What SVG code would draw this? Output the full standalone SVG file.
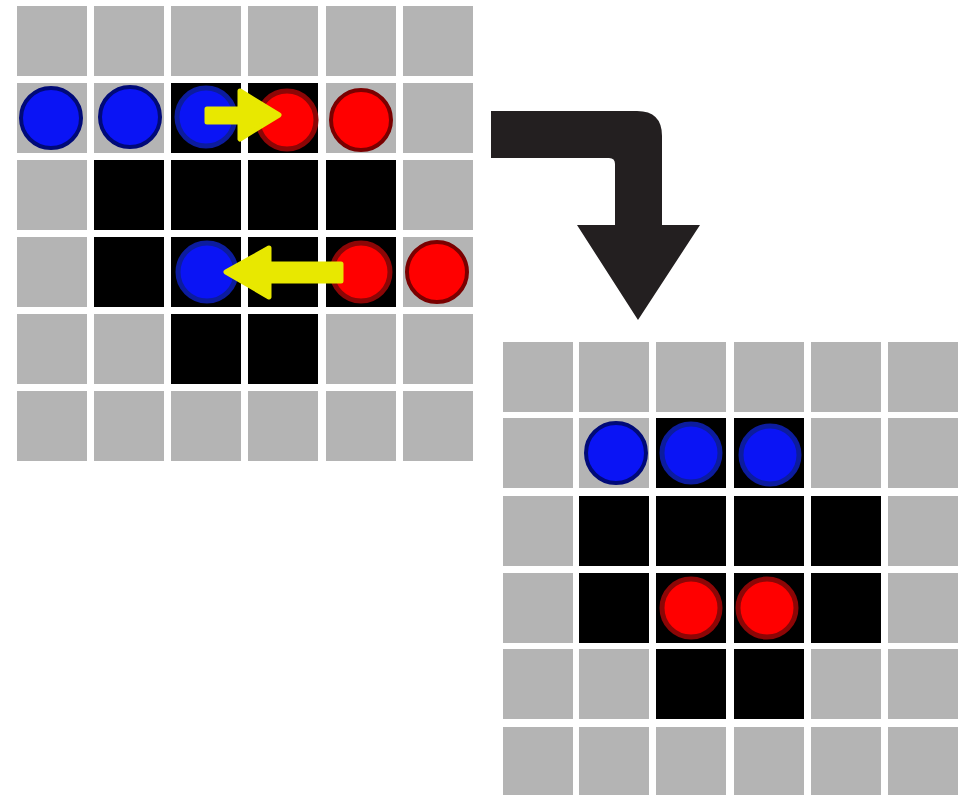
<svg xmlns="http://www.w3.org/2000/svg" width="965" height="795" viewBox="0 0 965 795">
<style>
.g{fill:#b4b4b4}
.k{fill:#000}
.bg{fill:#0a14f5;stroke:#000a78;stroke-width:4}
.bk{fill:#0a14f5;stroke:#0c1c9e;stroke-width:5}
.rg{fill:#ff0000;stroke:#7a0000;stroke-width:4}
.rk{fill:#ff0000;stroke:#8c0606;stroke-width:5}
.y{fill:#e8e800;stroke:#e8e800;stroke-width:5;stroke-linejoin:round}
</style>
<rect width="965" height="795" fill="#fff"/>
<g id="grid-before">
<rect class="g" x="17" y="6" width="70" height="70"/><rect class="g" x="94" y="6" width="70" height="70"/><rect class="g" x="171" y="6" width="70" height="70"/><rect class="g" x="248" y="6" width="70" height="70"/><rect class="g" x="326" y="6" width="70" height="70"/><rect class="g" x="403" y="6" width="70" height="70"/>
<rect class="g" x="17" y="83" width="70" height="70"/><rect class="g" x="94" y="83" width="70" height="70"/><rect class="k" x="171" y="83" width="70" height="70"/><rect class="k" x="248" y="83" width="70" height="70"/><rect class="g" x="326" y="83" width="70" height="70"/><rect class="g" x="403" y="83" width="70" height="70"/>
<rect class="g" x="17" y="160" width="70" height="70"/><rect class="k" x="94" y="160" width="70" height="70"/><rect class="k" x="171" y="160" width="70" height="70"/><rect class="k" x="248" y="160" width="70" height="70"/><rect class="k" x="326" y="160" width="70" height="70"/><rect class="g" x="403" y="160" width="70" height="70"/>
<rect class="g" x="17" y="237" width="70" height="70"/><rect class="k" x="94" y="237" width="70" height="70"/><rect class="k" x="171" y="237" width="70" height="70"/><rect class="k" x="248" y="237" width="70" height="70"/><rect class="k" x="326" y="237" width="70" height="70"/><rect class="g" x="403" y="237" width="70" height="70"/>
<rect class="g" x="17" y="314" width="70" height="70"/><rect class="g" x="94" y="314" width="70" height="70"/><rect class="k" x="171" y="314" width="70" height="70"/><rect class="k" x="248" y="314" width="70" height="70"/><rect class="g" x="326" y="314" width="70" height="70"/><rect class="g" x="403" y="314" width="70" height="70"/>
<rect class="g" x="17" y="391" width="70" height="70"/><rect class="g" x="94" y="391" width="70" height="70"/><rect class="g" x="171" y="391" width="70" height="70"/><rect class="g" x="248" y="391" width="70" height="70"/><rect class="g" x="326" y="391" width="70" height="70"/><rect class="g" x="403" y="391" width="70" height="70"/>
</g>
<g id="pieces-before">
<circle class="bg" cx="51" cy="118" r="30"/>
<circle class="bg" cx="130" cy="117" r="30"/>
<circle class="bk" cx="206" cy="117" r="29"/>
<circle class="rk" cx="287" cy="120" r="29"/>
<circle class="rg" cx="361" cy="120" r="30"/>
<circle class="bk" cx="207" cy="272" r="29"/>
<circle class="rk" cx="361" cy="272" r="29"/>
<circle class="rg" cx="437" cy="272" r="30"/>
</g>
<g id="moves">
<polygon class="y" points="207,109 240,109 240,91 279,115 240,139 240,122 207,122"/>
<polygon class="y" points="341,264 269,264 269,248 226,272 269,297 269,281 341,281"/>
</g>
<g id="connectors">
<path d="M491,111 H637 Q662,111 662,136 V225 H700 L638,320 L577,225 H615 V164 Q615,158 609,158 H491 Z" fill="#231f20"/>
</g>
<g id="grid-after">
<rect class="g" x="503" y="342" width="70" height="70"/><rect class="g" x="579" y="342" width="70" height="70"/><rect class="g" x="656" y="342" width="70" height="70"/><rect class="g" x="734" y="342" width="70" height="70"/><rect class="g" x="811" y="342" width="70" height="70"/><rect class="g" x="888" y="342" width="70" height="70"/>
<rect class="g" x="503" y="418" width="70" height="70"/><rect class="g" x="579" y="418" width="70" height="70"/><rect class="k" x="656" y="418" width="70" height="70"/><rect class="k" x="734" y="418" width="70" height="70"/><rect class="g" x="811" y="418" width="70" height="70"/><rect class="g" x="888" y="418" width="70" height="70"/>
<rect class="g" x="503" y="496" width="70" height="70"/><rect class="k" x="579" y="496" width="70" height="70"/><rect class="k" x="656" y="496" width="70" height="70"/><rect class="k" x="734" y="496" width="70" height="70"/><rect class="k" x="811" y="496" width="70" height="70"/><rect class="g" x="888" y="496" width="70" height="70"/>
<rect class="g" x="503" y="573" width="70" height="70"/><rect class="k" x="579" y="573" width="70" height="70"/><rect class="k" x="656" y="573" width="70" height="70"/><rect class="k" x="734" y="573" width="70" height="70"/><rect class="k" x="811" y="573" width="70" height="70"/><rect class="g" x="888" y="573" width="70" height="70"/>
<rect class="g" x="503" y="649" width="70" height="70"/><rect class="g" x="579" y="649" width="70" height="70"/><rect class="k" x="656" y="649" width="70" height="70"/><rect class="k" x="734" y="649" width="70" height="70"/><rect class="g" x="811" y="649" width="70" height="70"/><rect class="g" x="888" y="649" width="70" height="70"/>
<rect class="g" x="503" y="727" width="70" height="70"/><rect class="g" x="579" y="727" width="70" height="70"/><rect class="g" x="656" y="727" width="70" height="70"/><rect class="g" x="734" y="727" width="70" height="70"/><rect class="g" x="811" y="727" width="70" height="70"/><rect class="g" x="888" y="727" width="70" height="70"/>
</g>
<g id="pieces-after">
<circle class="bg" cx="616" cy="453" r="30"/>
<circle class="bk" cx="691" cy="453" r="29"/>
<circle class="bk" cx="770" cy="455" r="29"/>
<circle class="rk" cx="691" cy="608" r="29"/>
<circle class="rk" cx="767" cy="608" r="29"/>
</g>
</svg>
